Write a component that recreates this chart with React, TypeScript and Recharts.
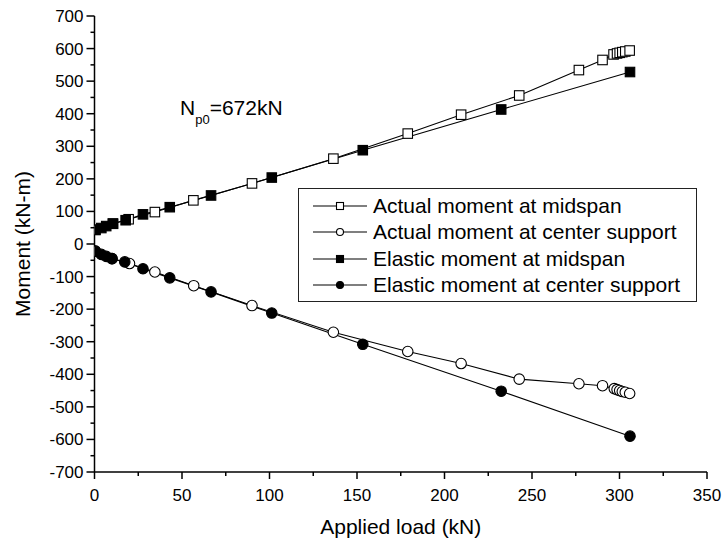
import { LineChart, Line, XAxis, YAxis, Legend, Label } from 'recharts';

// Actual moment at midspan (open squares)
const actualMidLoad = [0.5, 10.5, 19.5, 34.5, 56.5, 90, 136.5, 179, 209.5, 242.7, 276.8, 290.3, 296.6, 298.6, 300.1, 301.6, 303.3, 305.8];
const actualMidMoment = [43, 63, 76, 98, 134, 186, 262, 339, 397, 456, 534, 565, 582, 585, 587, 589, 591, 594];

// Actual moment at center support (open circles)
const actualSupLoad = [0.5, 10, 20, 34.5, 56.7, 90, 136.5, 179, 209.5, 242.7, 276.8, 290.3, 297, 298.6, 300.1, 301.6, 303.3, 305.8];
const actualSupMoment = [-22, -45, -60, -86, -128, -189, -271, -330, -367, -415, -429, -435, -444, -447, -450, -453, -455, -459];

// Elastic moment at midspan (filled squares)
const elasticMidLoad = [0.5, 3.9, 6.7, 10.6, 17.8, 27.7, 43, 66.6, 101.3, 153.3, 232.4, 306];
const elasticMidMoment = [44, 49, 55, 62, 73, 91, 113, 149, 204, 288, 413, 528];

// Elastic moment at center support (filled circles)
const elasticSupLoad = [0.5, 3.9, 6.7, 10, 17.3, 27.7, 43, 66.6, 101.3, 153.3, 232.4, 306];
const elasticSupMoment = [-22, -32, -38, -45, -55, -76, -104, -147, -212, -308, -452, -590];

const xTicks = [0, 25, 50, 75, 100, 125, 150, 175, 200, 225, 250, 275, 300, 325, 350];
const yTicks = [-700, -650, -600, -550, -500, -450, -400, -350, -300, -250, -200, -150, -100, -50, 0, 50, 100, 150, 200, 250, 300, 350, 400, 450, 500, 550, 600, 650, 700];

const FONT = '"Liberation Sans", Arial, Helvetica, sans-serif';

const pairs = (xs: number[], ys: number[]) => xs.map((x, i) => ({ x, y: ys[i] }));

type Shape = 'square' | 'circle';

const series = [
  { name: 'Actual moment at midspan', data: pairs(actualMidLoad, actualMidMoment), shape: 'square' as Shape, filled: false },
  { name: 'Actual moment at center support', data: pairs(actualSupLoad, actualSupMoment), shape: 'circle' as Shape, filled: false },
  { name: 'Elastic moment at midspan', data: pairs(elasticMidLoad, elasticMidMoment), shape: 'square' as Shape, filled: true },
  { name: 'Elastic moment at center support', data: pairs(elasticSupLoad, elasticSupMoment), shape: 'circle' as Shape, filled: true },
];

function Marker({ cx, cy, shape, filled, size }: { cx: number; cy: number; shape: Shape; filled: boolean; size: number }) {
  const fill = filled ? '#000' : '#fff';
  if (shape === 'square') {
    return <rect x={cx - size / 2} y={cy - size / 2} width={size} height={size} fill={fill} stroke="#000" strokeWidth={1.1} />;
  }
  return <circle cx={cx} cy={cy} r={size / 2} fill={fill} stroke="#000" strokeWidth={1.1} />;
}

const XTick = (props: any) => {
  const { x, y, payload } = props;
  const major = payload.value % 50 === 0;
  return (
    <g>
      <line x1={x} x2={x} y1={y} y2={y + (major ? 7 : 4)} stroke="#000" strokeWidth={1.5} />
      {major && (
        <text x={x} y={y + 29} textAnchor="middle" fontSize={17} fontFamily={FONT} fill="#000">
          {payload.value}
        </text>
      )}
    </g>
  );
};

const YTick = (props: any) => {
  const { x, y, payload } = props;
  const major = payload.value % 100 === 0;
  return (
    <g>
      <line x1={x} x2={x - (major ? 8 : 4)} y1={y} y2={y} stroke="#000" strokeWidth={1.5} />
      {major && (
        <text x={x - 11} y={y + 6} textAnchor="end" fontSize={17} fontFamily={FONT} fill="#000">
          {payload.value}
        </text>
      )}
    </g>
  );
};

const YTitle = (props: any) => {
  const { viewBox } = props;
  const cy = viewBox.y + viewBox.height / 2;
  return (
    <text x={22} y={cy} transform={`rotate(-90, 22, ${cy})`} textAnchor="middle" dominantBaseline="central" fontSize={21} fontFamily={FONT} fill="#000">
      Moment (kN-m)
    </text>
  );
};

const XTitle = (props: any) => {
  const { viewBox } = props;
  const cx = viewBox.x + viewBox.width / 2;
  return (
    <text x={cx} y={534} textAnchor="middle" fontSize={21} fontFamily={FONT} fill="#000">
      Applied load (kN)
    </text>
  );
};

const LegendBox = () => (
  <div
    style={{
      width: 399,
      height: 114,
      boxSizing: 'border-box',
      border: '1px solid #222',
      background: '#fff',
      paddingTop: 4,
      fontFamily: FONT,
      fontSize: 21,
      color: '#000',
    }}
  >
    {series.map((s) => (
      <div key={s.name} style={{ display: 'flex', alignItems: 'center', height: 26.3, whiteSpace: 'nowrap' }}>
        <svg width={54} height={14} style={{ marginLeft: 14, marginRight: 6 }}>
          <line x1={0} x2={54} y1={7} y2={7} stroke="#000" strokeWidth={1.2} />
          <Marker cx={27} cy={7} shape={s.shape} filled={s.filled} size={7} />
        </svg>
        <span style={{ lineHeight: '26px' }}>{s.name}</span>
      </div>
    ))}
  </div>
);

export default function App() {
  return (
    <div style={{ position: 'absolute', left: 0, top: 0, width: 724, height: 543, background: '#fff' }}>
      <LineChart width={724} height={543} margin={{ top: 16, right: 17, bottom: 0, left: 0 }}>
        <XAxis
          type="number"
          dataKey="x"
          domain={[0, 350]}
          ticks={xTicks}
          interval={0}
          height={71}
          tickSize={0}
          tickMargin={0}
          tickLine={false}
          tick={<XTick />}
          axisLine={{ stroke: '#000', strokeWidth: 1.5 }}
          allowDataOverflow
        >
          <Label content={<XTitle />} />
        </XAxis>
        <YAxis
          type="number"
          dataKey="y"
          domain={[-700, 700]}
          ticks={yTicks}
          interval={0}
          width={94.5}
          tickSize={0}
          tickMargin={0}
          tickLine={false}
          tick={<YTick />}
          axisLine={{ stroke: '#000', strokeWidth: 1.5 }}
          allowDataOverflow
        >
          <Label content={<YTitle />} />
        </YAxis>
        <Legend
          layout="horizontal"
          verticalAlign="middle"
          align="center"
          content={<LegendBox />}
          wrapperStyle={{ left: 298, top: 188, width: 399, height: 114 }}
        />
        {series.map((s) => (
          <Line
            key={s.name}
            name={s.name}
            data={s.data}
            dataKey="y"
            type="linear"
            stroke="#000"
            strokeWidth={1.1}
            isAnimationActive={false}
            dot={(p: any) => (
              <Marker key={`${s.name}-${p.index}`} cx={p.cx} cy={p.cy} shape={s.shape} filled={s.filled} size={s.shape === 'square' ? 9.5 : 10.5} />
            )}
            activeDot={false}
          />
        ))}
        <text x={180} y={115} fontSize={21} fontFamily={FONT} fill="#000">
          N
          <tspan fontSize={13} dy={9}>p0</tspan>
          <tspan fontSize={21} dy={-9}>=672kN</tspan>
        </text>
      </LineChart>
    </div>
  );
}
